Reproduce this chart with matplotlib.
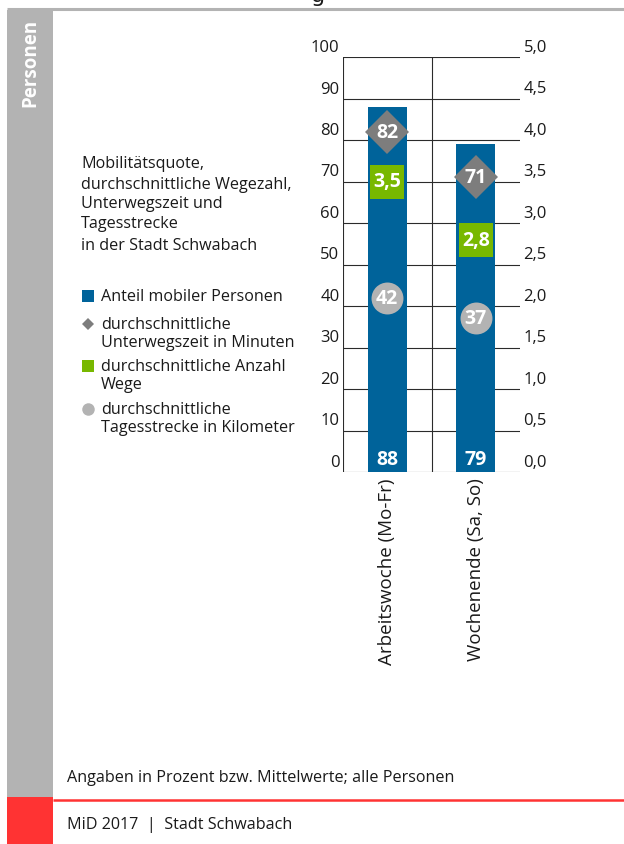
import matplotlib.pyplot as plt
from matplotlib.patches import Rectangle
from matplotlib.transforms import ScaledTranslation

plt.rcParams['font.family'] = ['Open Sans', 'DejaVu Sans']

# data
categories = ["Arbeitswoche (Mo-Fr)", "Wochenende (Sa, So)"]
mobile_share = [88, 79]          # Anteil mobiler Personen (%)
travel_minutes = [82, 71]        # Unterwegszeit in Minuten
trips = [3.5, 2.8]               # Anzahl Wege (rechte Achse)
distance_km = [42, 37]           # Tagesstrecke in Kilometer
left_ticks = list(range(0, 101, 10))
right_ticks = [i * 0.5 for i in range(11)]

BLUE = '#00639a'
GREEN = '#78b800'
DARK_GREY = '#7d7d7d'
LIGHT_GREY = '#b3b3b3'
RED = '#ff3333'
TXT = '#1a1a1a'
FS = 11.6

W, H = 624, 845
fig = plt.figure(figsize=(W / 100, H / 100), dpi=100)

# background layer in pixel coordinates
bg = fig.add_axes([0, 0, 1, 1])
bg.set_xlim(0, W)
bg.set_ylim(H, 0)
bg.axis('off')
bg.add_patch(Rectangle((7, 11), 46, 787, color=LIGHT_GREY, lw=0))
bg.add_patch(Rectangle((7, 798), 46, 47, color=RED, lw=0))
bg.plot([7, W], [9.5, 9.5], color=LIGHT_GREY, lw=2.2, solid_capstyle='butt')
bg.plot([53, W], [800.5, 800.5], color=RED, lw=1.8, solid_capstyle='butt')
bg.text(318, -4, 'g', fontsize=16, color=TXT, ha='center', va='center',
        family='DejaVu Sans')
bg.text(30, 63, 'Personen', rotation=90, color='white', fontsize=13.5,
        fontweight='bold', ha='center', va='center')

title_lines = [("Mobilitätsquote,", 164), ("durchschnittliche Wegezahl,", 185),
               ("Unterwegszeit und", 204), ("Tagesstrecke", 224),
               ("in der Stadt Schwabach", 246)]
for t, y in title_lines:
    bg.text(81, y, t, fontsize=FS, color=TXT, ha='left', va='center')

legend_items = [('s', BLUE, 297, ["Anteil mobiler Personen"]),
                ('D', DARK_GREY, 325, ["durchschnittliche", "Unterwegszeit in Minuten"]),
                ('s', GREEN, 367, ["durchschnittliche Anzahl", "Wege"]),
                ('o', LIGHT_GREY, 410, ["durchschnittliche", "Tagesstrecke in Kilometer"])]
for marker, col, y, lines in legend_items:
    ms = 8.5 if marker == 's' else (6.5 if marker == 'D' else 9)
    bg.plot([88], [y], marker=marker, color=col, ms=ms, mew=0, ls='none')
    for i, t in enumerate(lines):
        bg.text(101, y + i * 18, t, fontsize=FS, color=TXT, ha='left', va='center')

bg.text(67, 778, "Angaben in Prozent bzw. Mittelwerte; alle Personen",
        fontsize=FS, color=TXT, ha='left', va='center')
bg.text(67, 825, "MiD 2017  |  Stadt Schwabach",
        fontsize=FS, color=TXT, ha='left', va='center')

# main chart
ax = fig.add_axes([343 / W, 1 - 473 / H, 177 / W, 415 / H])
ax.set_facecolor('none')
x = range(len(categories))
ax.set_xlim(-0.5, 1.5)
ax.set_ylim(0, 100)
for v in left_ticks:
    ax.axhline(v, color='#2b2b2b', lw=0.8, zorder=0.5)
for xv in (-0.5, 0.5):
    ax.axvline(xv, color='#2b2b2b', lw=0.8, zorder=0.5)
for s in ax.spines.values():
    s.set_visible(False)

ax.bar(x, mobile_share, width=0.44, color=BLUE, zorder=2)
ax.plot(x, travel_minutes, 'D', color=DARK_GREY, ms=22, mew=0, zorder=3)
ax.plot(x, distance_km, 'o', color=LIGHT_GREY, ms=23, mew=0, zorder=3)

for i in x:
    ax.annotate(str(mobile_share[i]), (i, 0), xytext=(0, 9.5), textcoords='offset points',
                ha='center', va='center', color='white', fontsize=14, fontweight='bold', zorder=5)
    ax.text(i, travel_minutes[i], str(travel_minutes[i]), ha='center', va='center',
            color='white', fontsize=14, fontweight='bold', zorder=5)
    ax.text(i, distance_km[i], str(distance_km[i]), ha='center', va='center',
            color='white', fontsize=14, fontweight='bold', zorder=5)

ax.set_xticks(list(x))
ax.set_xticklabels(categories, rotation=90, fontsize=13.5, color=TXT)
ax.set_yticks(left_ticks)
ax.set_yticklabels([str(v) for v in left_ticks], fontsize=12, color=TXT)
ax.tick_params(length=0)
ax.tick_params(axis='y', pad=2.5)
ax.tick_params(axis='x', pad=4)

ax2 = ax.twinx()
ax2.set_ylim(0, 5)
for s in ax2.spines.values():
    s.set_visible(False)
ax2.plot(x, trips, 's', color=GREEN, ms=24, mew=0, zorder=3)
for i in x:
    ax2.text(i, trips[i], f"{trips[i]:.1f}".replace('.', ','), ha='center', va='center',
             color='white', fontsize=14, fontweight='bold', zorder=5)
ax2.set_yticks(right_ticks)
ax2.set_yticklabels([f"{v:.1f}".replace('.', ',') for v in right_ticks], fontsize=12, color=TXT)
ax2.tick_params(length=0, pad=2.5)

shift = ScaledTranslation(0, 12 / 100, fig.dpi_scale_trans)
for lab in ax.get_yticklabels() + ax2.get_yticklabels():
    lab.set_transform(lab.get_transform() + shift)

fig.savefig('out.png', dpi=100)
